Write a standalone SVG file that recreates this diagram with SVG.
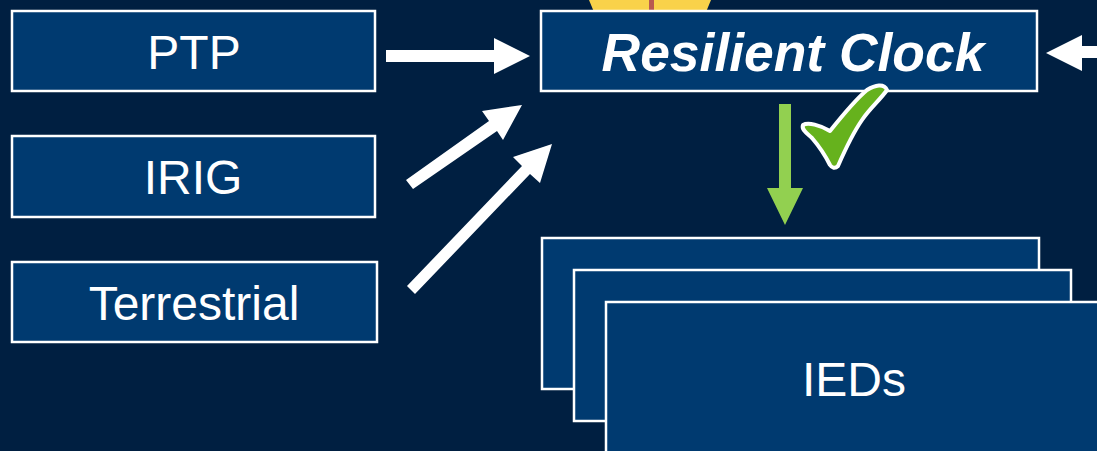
<svg xmlns="http://www.w3.org/2000/svg" width="1097" height="451" viewBox="0 0 1097 451">
<style>
.box{fill:#003A70;stroke:#fff;stroke-width:2.5}
.lbl{font-family:"Liberation Sans",Arial,sans-serif;font-size:48px;fill:#fff;text-anchor:middle}
.clock{font-size:53.4px;font-weight:bold;font-style:italic}
.arrow{fill:#fff}
</style>
<rect width="1097" height="451" fill="#001F41"/>
<g id="bulb">
<path d="M589 0H711L706 12H594Z" fill="#F9D24A"/>
<rect x="649" y="0" width="5" height="12" fill="#B85A50"/>
</g>
<g id="connectors">
<path class="arrow" d="M386 50H494V38L530 56L494 74V62H386Z"/>
<path class="arrow" d="M406 180L489 121L482 111L522 105L503 140L497 131L413 189Z"/>
<path class="arrow" d="M407 286L522 166L513 157L552 144L540 183L530 174L415 294Z"/>
<path class="arrow" d="M1097 46H1082V35L1046 53L1082 71V58H1097Z"/>
<path d="M779 104H791V188H803L785 225L767 188H779Z" fill="#92D050"/>
</g>
<g id="node-ptp"><rect class="box" x="12" y="11" width="363" height="80"/><text class="lbl" x="194" y="69">PTP</text></g>
<g id="node-irig"><rect class="box" x="12" y="136" width="363" height="81"/><text class="lbl" x="193" y="194">IRIG</text></g>
<g id="node-terrestrial"><rect class="box" x="12" y="262" width="365" height="80"/><text class="lbl" x="194" y="320">Terrestrial</text></g>
<g id="node-clock"><rect class="box" x="541" y="11" width="496" height="80"/><text class="lbl clock" x="793" y="71">Resilient Clock</text></g>
<g id="node-ieds">
<rect class="box" x="542" y="238" width="497" height="151"/>
<rect class="box" x="574" y="270" width="497" height="151"/>
<rect class="box" x="606" y="302" width="497" height="151"/>
<text class="lbl" x="854" y="396">IEDs</text>
</g>
<g id="check">
<path d="M803 125C808 122 820 125 830 131C842 116 855 100 867 90C875 85 884 83 887 90C880 100 870 108 862 120C853 133 845 150 838 166C835 169 832 168 830 165C825 155 818 145 812 138C808 134 801 130 803 125Z" fill="#66B21D" stroke="#fff" stroke-width="4" stroke-linejoin="round"/>
</g>
</svg>
